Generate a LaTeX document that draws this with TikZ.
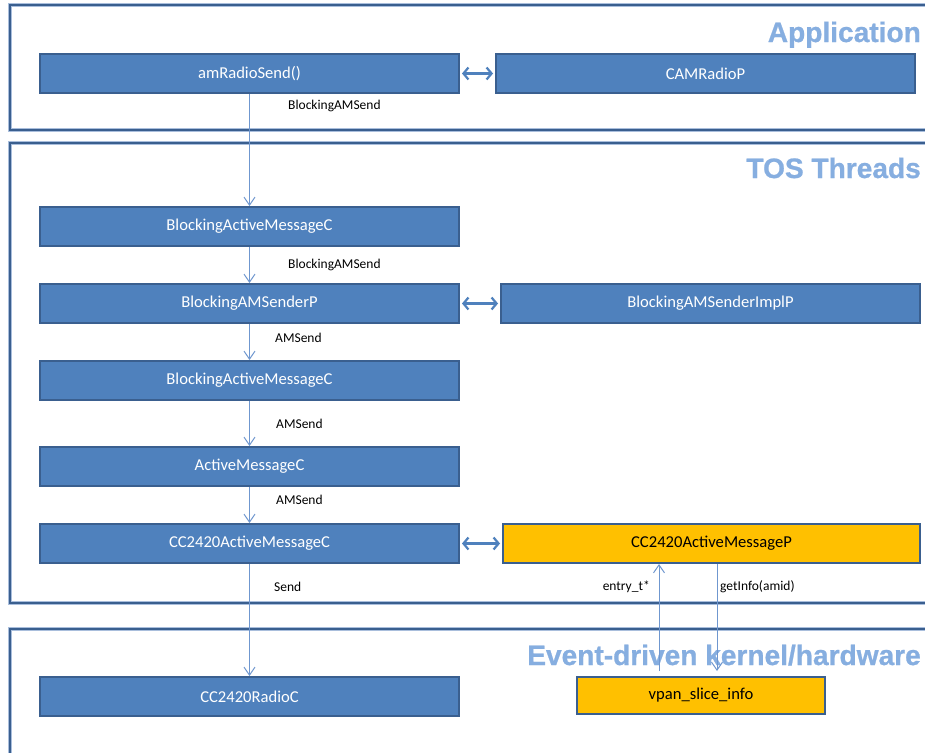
\documentclass[tikz,border=0pt]{standalone}
\usepackage{fontspec}
\usetikzlibrary{arrows.meta}
\newfontfamily\boxfont{Carlito}
\newfontfamily\headfont[BoldFeatures={FakeBold=0.8}]{Liberation Sans}
\definecolor{boxblue}{HTML}{4F81BD}
\definecolor{edgeblue}{HTML}{3A5F8F}
\definecolor{halo}{HTML}{A9BEDC}
\definecolor{amber}{HTML}{FFC000}
\definecolor{wire}{HTML}{6F97CF}
\definecolor{headblue}{HTML}{86AEE0}
\tikzset{
  panel/.style={draw=edgeblue, line width=2.2pt, fill=none,
    preaction={draw=halo, line width=3.6pt}},
  comp/.style={draw=edgeblue, line width=2pt, fill=boxblue, text=white,
    font=\boxfont\fontsize{16.6}{18}\selectfont,
    minimum width=419pt, minimum height=39pt, inner sep=0pt},
  hot/.style={comp, fill=amber, text=black},
  wirearrow/.style={draw=wire, line width=1pt,
    -{Straight Barb[length=8pt,width=11pt,line width=1pt]}},
  link/.style={draw=boxblue, line width=2.6pt, shorten <=2pt, shorten >=2pt,
    {Straight Barb[length=5pt,width=12pt,line width=2.2pt]}-{Straight Barb[length=5pt,width=12pt,line width=2.2pt]}},
  iface/.style={font=\boxfont\fontsize{13.5}{15}\selectfont, inner sep=0pt},
  layer/.style={font=\headfont\bfseries\fontsize{28.1}{30}\selectfont,
    text=headblue, inner sep=0pt, anchor=base east}
}
\begin{document}
\begin{tikzpicture}[x=1pt, y=-1pt]
\clip (0,0) rectangle (925,752);
\fill[white] (0,0) rectangle (925,752);

% layer frames
\draw[panel] (10,5) rectangle (940,130);
\draw[panel] (10,143) rectangle (940,603);
\draw[panel] (10,629) rectangle (940,770);

% layer headings
\node[layer] (hApp) at (921,42) {Application};
\node[layer] (hTos) at (921,178) {TOS Threads};
\node[layer] (hKer) at (921,665) {Event-driven kernel/hardware};

% components
\node[comp] (send)  at (249.5,73.5)  {amRadioSend()};
\node[comp] (cam)   at (705.5,73.5)  {CAMRadioP};
\node[comp] (bamc1) at (249.5,226.5) {BlockingActiveMessageC};
\node[comp] (bams)  at (249.5,303.5) {BlockingAMSenderP};
\node[comp] (bimpl) at (710.5,303.5) {BlockingAMSenderImplP};
\node[comp] (bamc2) at (249.5,380.5) {BlockingActiveMessageC};
\node[comp] (amc)   at (249.5,466.5) {ActiveMessageC};
\node[comp] (ccc)   at (249.5,543.5) {CC2420ActiveMessageC};
\node[hot, minimum width=417pt] (ccp) at (711.5,543.5) {CC2420ActiveMessageP};
\node[comp] (radio) at (249.5,696.5) {CC2420RadioC};
\node[hot, minimum width=248pt, minimum height=37pt] (vpan) at (701,695.5) {vpan\_slice\_info};

% wiring down the stack
\draw[wirearrow] (send.south) -- (bamc1.north);
\draw[wirearrow] (bamc1.south) -- (bams.north);
\draw[wirearrow] (bams.south) -- (bamc2.north);
\draw[wirearrow] (bamc2.south) -- (amc.north);
\draw[wirearrow] (amc.south) -- (ccc.north);
\draw[wirearrow] (ccc.south) -- (radio.north);
\draw[wirearrow] ([xshift=-42pt,yshift=5pt]vpan.north) -- ([xshift=-52.5pt]ccp.south);
\draw[wirearrow] ([xshift=5.5pt]ccp.south) -- ([xshift=16pt,yshift=5pt]vpan.north);

% interface labels
\node[iface, anchor=west] (l1) at (288,106) {BlockingAMSend};
\node[iface, anchor=west] (l2) at (288,265) {BlockingAMSend};
\node[iface, anchor=west] (l3) at (275,338) {AMSend};
\node[iface, anchor=west] (l4) at (276,424) {AMSend};
\node[iface, anchor=west] (l5) at (276,500) {AMSend};
\node[iface, anchor=west] (l6) at (274,587) {Send};
\node[iface, anchor=east] (l7) at (650,587) {entry\_t*};
\node[iface, anchor=west] (l8) at (720,587) {getInfo(amid)};

% implementation links
\draw[link] (send.east) -- (cam.west);
\draw[link] (bams.east) -- (bimpl.west);
\draw[link] (ccc.east) -- (ccp.west);
\end{tikzpicture}
\end{document}
